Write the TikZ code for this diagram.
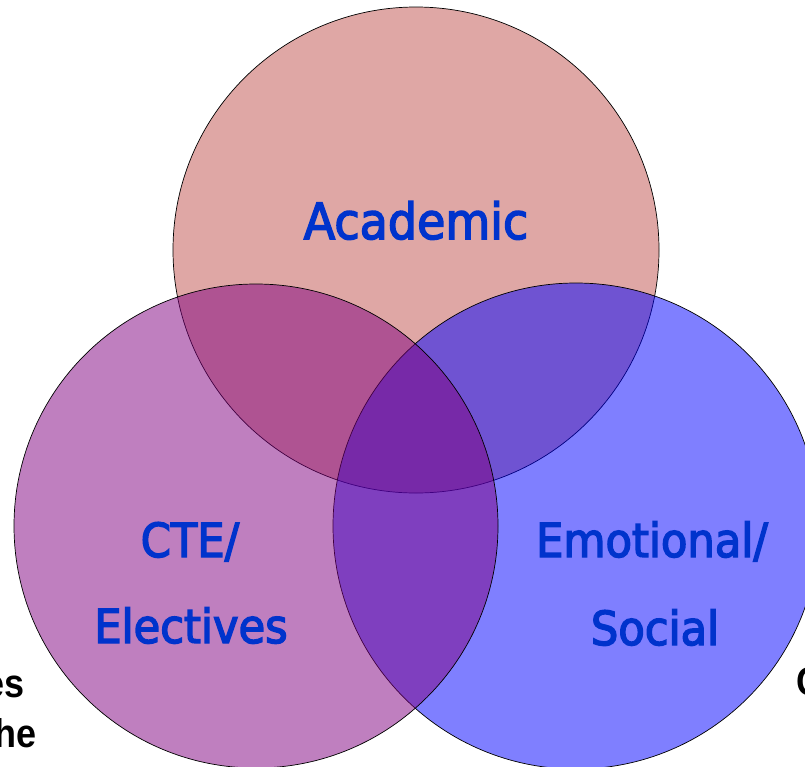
\documentclass[tikz,border=0pt]{standalone}
\usepackage{fontspec}
\newfontfamily\labfont[FakeStretch=0.92,FakeBold=3]{DejaVu Sans}
\newfontfamily\blkfont[FakeStretch=0.9]{Liberation Sans}
\definecolor{toprose}{RGB}{192,80,77}
\definecolor{vpurple}{RGB}{128,0,128}
\definecolor{vblue}{RGB}{0,0,255}
\definecolor{lblue}{RGB}{0,51,204}
\begin{document}
\begin{tikzpicture}[x=1pt,y=-1pt,
  venn/.style={draw=black,line width=0.7pt,fill opacity=0.5},
  lab/.style={text=lblue,font=\labfont\fontsize{47}{87}\selectfont,anchor=base,inner sep=0pt},
  biglab/.style={lab,font=\labfont\fontsize{50}{87}\selectfont},
  blk/.style={font=\blkfont\bfseries\fontsize{40}{50}\selectfont,inner sep=0pt}]
\useasboundingbox (0,0) rectangle (805,766);
\fill[white] (0,0) rectangle (805,766);
\path[venn,fill=toprose] (416,250) circle[radius=243];
\path[venn,fill=vblue] (576,526) circle[radius=243];
\path[venn,fill=vpurple] (256,526) circle[radius=242];
\node[biglab] (academic) at (416,239) {Academic};
\node[lab] (cte) at (190,557) {CTE/};
\node[lab] (elect) at (191,643) {Electives};
\node[lab] (emo) at (652,557) {Emotional/};
\node[lab] (soc) at (655,645) {Social};
\node[blk,anchor=base east] (fraga) at (25,697) {es};
\node[blk,anchor=base east] (fragb) at (37,747) {he};
\node[blk,anchor=base west] (fragc) at (796,695) {C};
\end{tikzpicture}
\end{document}
